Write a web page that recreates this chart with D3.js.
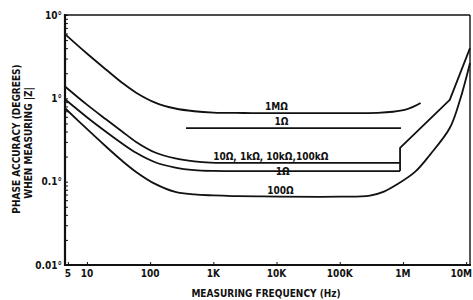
<!DOCTYPE html>
<html><head><meta charset="utf-8">
<script src="https://cdn.jsdelivr.net/npm/d3@7"></script>
<style>
html,body{margin:0;padding:0;background:#fff;}
svg text{font-family:"Liberation Sans Narrow","DejaVu Sans Condensed","Arial Narrow",sans-serif;font-weight:bold;fill:#111;}
</style></head>
<body>
<svg id="c" width="473" height="300"></svg>
<script>
// ---- data ----
const xTickVals = [5, 10, 100, 1e3, 1e4, 1e5, 1e6, 1e7];
const xTickLabels = ["5", "10", "100", "1K", "10K", "100K", "1M", "10M"];
const yTickVals = [0.01, 0.1, 1, 10];
const yTickLabels = ["0.01°", "0.1°", "1°", "10°"];

// [frequency Hz, phase accuracy degrees]
const curve1M = [[4.5,5.9],[10,3.45],[20,2.22],[36,1.54],[60,1.17],[120,0.89],[250,0.755],[500,0.7],[1000,0.675],[3000,0.667],[1e4,0.665],[1e5,0.665],[4e5,0.67],[7e5,0.69],[1.1e6,0.73],[1.5e6,0.8],[1.9e6,0.88]];
const curve1ohmUpper = [[370,0.44],[0.93e6,0.44]];
const curveA = [[4.6,1.37],[10,0.84],[20,0.56],[36,0.4],[60,0.3],[120,0.224],[250,0.19],[500,0.175],[900,0.169],[2000,0.168],[0.9e6,0.168]];
const tailA = [[0.9e6,0.168],[0.9e6,0.254],[5.5e6,0.96],[11.5e6,4.0]];
const curveB = [[4.6,0.96],[10,0.593],[20,0.397],[36,0.287],[60,0.222],[120,0.171],[250,0.1475],[500,0.1376],[1000,0.1345],[2000,0.134],[0.9e6,0.134]];
const tailB = [[0.9e6,0.134],[0.9e6,0.168]];
const curveC = [[4.6,0.75],[10,0.429],[20,0.264],[36,0.178],[60,0.131],[120,0.094],[250,0.0754],[500,0.0703],[1000,0.0684],[2000,0.0672],[5000,0.0665],[1e5,0.066],[3e5,0.068],[5e5,0.076],[7.75e5,0.091],[1.55e6,0.131],[2.67e6,0.21],[5.5e6,0.44],[8e6,0.96],[11.5e6,2.66]];

const labels = [
  {t:"1MΩ", f:1.0e4, v:0.72},
  {t:"1Ω", f:1.2e4, v:0.475},
  {t:"10Ω, 1kΩ, 10kΩ,100kΩ", f:8.1e3, v:0.183},
  {t:"1Ω", f:1.25e4, v:0.12},
  {t:"100Ω", f:1.15e4, v:0.0705}
];

// ---- chart ----
const svg = d3.select("#c");
const L = 65, R = 470, T = 15, B = 265;
const x = d3.scaleLog().domain([4.5, 11.5e6]).range([L, R]);
const y = d3.scaleLog().domain([0.01, 10]).range([B, T]);
const ink = "#111";

// frame
svg.append("line").attr("x1",L).attr("x2",R).attr("y1",T).attr("y2",T).attr("stroke",ink).attr("stroke-width",1.6);
svg.append("line").attr("x1",R).attr("x2",R).attr("y1",T).attr("y2",B).attr("stroke",ink).attr("stroke-width",1.4);

// left axis (ticks inward)
const yAxis = d3.axisRight(y).tickValues(y.ticks()).tickSize(3).tickFormat("");
const gy = svg.append("g").attr("transform",`translate(${L},0)`).call(yAxis);
gy.select(".domain").remove();
gy.selectAll("line").attr("stroke",ink).attr("stroke-width",1);
svg.append("line").attr("x1",L).attr("x2",L).attr("y1",T-1).attr("y2",B+1).attr("stroke",ink).attr("stroke-width",2.2);

// bottom axis (ticks inward)
const xAxis = d3.axisTop(x).tickValues(xTickVals).tickSize(3).tickFormat("");
const gx = svg.append("g").attr("transform",`translate(0,${B})`).call(xAxis);
gx.select(".domain").remove();
gx.selectAll("line").attr("stroke",ink).attr("stroke-width",1);
svg.append("line").attr("x1",L-1).attr("x2",R+1).attr("y1",B).attr("y2",B).attr("stroke",ink).attr("stroke-width",2.2);

// tick labels
svg.append("g").selectAll("text").data(xTickVals).join("text")
  .attr("x", (d,i) => i === xTickVals.length - 1 ? 472 : x(d)).attr("y", 277)
  .attr("text-anchor", (d,i) => i === xTickVals.length - 1 ? "end" : "middle")
  .attr("font-size",10).text((d,i) => xTickLabels[i]);
svg.append("g").selectAll("text").data(yTickVals).join("text")
  .attr("x", 62).attr("y", d => y(d)).attr("dy","0.35em").attr("text-anchor","end")
  .attr("font-size",10).text((d,i) => yTickLabels[i]);

// titles
svg.append("text").attr("x", 266).attr("y", 297).attr("text-anchor","middle").attr("font-size",10)
  .text("MEASURING FREQUENCY (Hz)");
svg.append("text").attr("transform","translate(20,139) rotate(-90)").attr("text-anchor","middle").attr("font-size",10)
  .text("PHASE ACCURACY (DEGREES)");
svg.append("text").attr("transform","translate(32,143) rotate(-90)").attr("text-anchor","middle").attr("font-size",10)
  .text("WHEN MEASURING |Z|");

// curves
const smooth = d3.line().x(d => x(d[0])).y(d => y(d[1])).curve(d3.curveCatmullRom.alpha(0.5));
const straight = d3.line().x(d => x(d[0])).y(d => y(d[1]));
const g = svg.append("g").attr("fill","none").attr("stroke",ink).attr("stroke-width",1.8).attr("stroke-linejoin","round");
[curve1M, curveA, curveB, curveC].forEach(c => g.append("path").attr("d", smooth(c)));
[curve1ohmUpper, tailA, tailB].forEach(c => g.append("path").attr("d", straight(c)));

// curve labels
svg.append("g").selectAll("text").data(labels).join("text")
  .attr("x", d => x(d.f)).attr("y", d => y(d.v)).attr("text-anchor","middle")
  .attr("font-size",10).text(d => d.t);
</script>
</body></html>
